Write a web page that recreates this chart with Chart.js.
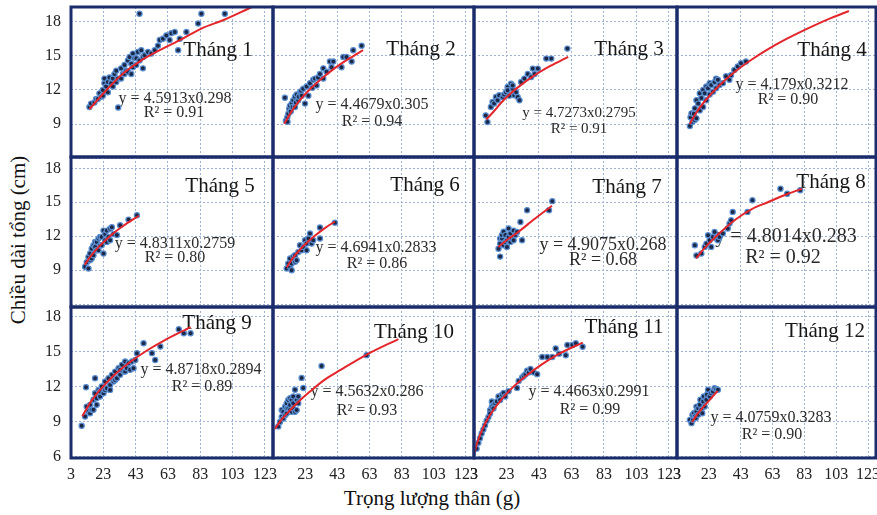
<!DOCTYPE html>
<html>
<head>
<meta charset="utf-8">
<script src="https://cdn.jsdelivr.net/npm/chart.js@4.4.0/dist/chart.umd.min.js"></script>
<style>
  html, body { margin: 0; padding: 0; background: #fff; overflow: hidden; }
  #wrap { position: relative; width: 877px; height: 515px; overflow: hidden; background: #fff; }
  #wrap canvas { position: absolute; }
  .axis-title { position: absolute; font-family: "Liberation Serif", "Times New Roman", serif; font-size: 21px; color: #111; white-space: nowrap; }
  #ytitle { left: 18px; top: 240px; transform: translate(-50%, -50%) rotate(-90deg); }
  #xtitle { left: 432px; top: 498px; transform: translate(-50%, -50%); }
</style>
</head>
<body>
<div id="wrap">
  <div id="ytitle" class="axis-title">Chiều dài tổng (cm)</div>
  <div id="xtitle" class="axis-title">Trọng lượng thân (g)</div>
</div>
<script>
// Labels
const months    = ['Tháng 1', 'Tháng 2', 'Tháng 3', 'Tháng 4', 'Tháng 5', 'Tháng 6',
                   'Tháng 7', 'Tháng 8', 'Tháng 9', 'Tháng 10', 'Tháng 11', 'Tháng 12'];
const equations = ['y = 4.5913x0.298', 'y = 4.4679x0.305', 'y = 4.7273x0.2795', 'y = 4.179x0.3212',
                   'y = 4.8311x0.2759', 'y = 4.6941x0.2833', 'y = 4.9075x0.268', 'y = 4.8014x0.283',
                   'y = 4.8718x0.2894', 'y = 4.5632x0.286', 'y = 4.4663x0.2991', 'y = 4.0759x0.3283'];
const r2Labels  = ['R² = 0.91', 'R² = 0.94', 'R² = 0.91', 'R² = 0.90', 'R² = 0.80', 'R² = 0.86',
                   'R² = 0.68', 'R² = 0.92', 'R² = 0.89', 'R² = 0.93', 'R² = 0.99', 'R² = 0.90'];
const xTicks = [3, 23, 43, 63, 83, 103, 123];
const yTicks = [6, 9, 12, 15, 18];

const pts1 = [[14.4,10.5],[15.4,10.8],[17.5,10.9],[18.5,11.2],[19.6,11.2],[20.6,11.7],[21.6,11.4],[22.7,12.0],[22.7,11.5],
  [23.7,12.6],[23.7,13.0],[24.7,12.3],[25.8,12.7],[25.8,11.8],[26.8,13.1],[27.8,12.6],[28.9,13.0],[28.9,12.3],[29.9,13.4],
  [31.0,13.7],[31.0,12.7],[32.0,13.0],[32.2,10.45],[34.0,13.9],[34.0,13.0],[35.1,13.4],[36.1,14.2],[36.1,13.4],[37.2,13.7],
  [38.2,14.6],[38.2,13.6],[39.2,14.9],[40.3,14.3],[40.3,13.4],[41.3,15.2],[41.3,14.0],[42.3,14.8],[43.4,14.2],[43.4,14.8],
  [44.4,15.35],[45.4,18.7],[45.4,14.6],[46.5,15.5],[47.5,13.9],[47.5,14.9],[48.5,15.05],[50.6,15.35],[52.7,15.2],[54.8,15.5],
  [56.8,15.9],[57.9,16.4],[59.9,16.5],[62.0,16.8],[64.0,16.4],[65.1,17.0],[67.2,17.1],[69.3,15.5],[70.3,16.5],[74.4,17.1],
  [81.7,17.85],[83.7,18.7],[98.2,18.7]];
const pts2 = [[10.4,11.32],[11.0,9.3],[11.9,9.6],[12.0,9.2],[12.5,9.9],[13.1,10.35],[13.5,10.6],[14.0,10.1],[14.6,10.8],
  [15.6,11.1],[15.2,10.5],[16.7,11.4],[16.7,10.5],[17.2,10.9],[17.7,11.6],[18.7,11.1],[19.0,11.4],[19.8,11.8],[20.5,11.9],
  [20.8,11.5],[21.8,12.1],[22.9,10.8],[23.9,12.3],[25.0,11.5],[26.0,12.6],[27.5,12.2],[28.0,12.9],[29.1,13.0],[30.1,12.4],
  [31.0,13.1],[32.2,13.4],[34.3,13.9],[34.3,13.0],[36.3,13.6],[38.4,14.5],[40.5,14.5],[39.4,14.0],[45.6,14.0],[46.7,14.9],
  [48.7,14.9],[51.9,14.5],[52.9,15.5],[58.1,15.9]];
const pts3 = [[10.2,9.76],[11.3,9.17],[13.4,10.5],[14.4,10.94],[15.4,10.8],[16.5,11.38],[17.5,11.1],[18.5,11.53],[20.6,11.38],
  [21.6,11.6],[22.7,11.8],[23.7,12.26],[23.7,11.97],[24.7,11.5],[25.8,12.55],[26.8,12.1],[26.8,12.4],[27.8,11.53],[28.9,11.8],
  [29.9,11.38],[31.0,11.1],[32.0,12.7],[34.0,13.0],[36.1,13.4],[38.2,13.14],[39.2,13.88],[40.3,13.4],[42.3,13.88],[47.5,14.76],
  [50.6,14.76],[60.5,15.64]];
const pts4 = [[11.1,8.82],[11.5,9.6],[12.1,9.94],[12.7,9.2],[13.6,9.9],[14.2,10.38],[14.2,9.35],[15.2,9.5],[15.2,11.1],
  [16.3,10.8],[17.3,10.2],[17.3,11.7],[18.3,11.3],[19.4,10.5],[19.4,12.0],[20.4,11.7],[21.4,11.1],[21.4,12.3],[22.5,12.15],
  [23.5,11.6],[23.5,12.6],[24.5,12.44],[25.6,11.85],[26.6,12.7],[27.6,12.15],[27.6,13.0],[28.7,12.9],[29.7,12.44],[31.8,12.6],
  [33.8,13.2],[35.9,12.9],[36.95,13.3],[39.0,13.76],[41.1,14.06],[43.2,14.35],[46.3,14.5]];
const pts5 = [[11.7,9.3],[12.7,9.7],[13.8,10.17],[13.8,9.15],[14.8,10.47],[14.8,9.88],[15.8,10.9],[15.8,10.03],[16.9,11.2],
  [16.9,10.32],[17.9,11.5],[17.9,11.06],[18.9,10.76],[18.9,11.5],[20.0,11.79],[20.0,10.76],[21.0,11.2],[21.0,11.94],[22.0,11.94],
  [22.0,11.2],[23.1,10.47],[23.1,12.5],[24.1,11.65],[24.1,12.2],[25.2,12.5],[25.2,11.5],[26.2,11.94],[27.2,12.67],[27.2,11.65],
  [28.3,12.8],[29.3,12.2],[31.4,12.1],[33.4,12.97],[38.6,13.47],[43.8,13.85]];
const pts6 = [[11.5,9.15],[12.5,9.59],[13.6,10.03],[13.6,9.3],[14.6,9.0],[14.6,9.59],[15.6,10.2],[16.7,9.74],[16.7,10.33],
  [17.7,9.88],[18.7,10.6],[19.8,11.2],[20.8,10.76],[21.8,11.06],[22.9,11.65],[23.9,10.76],[23.9,11.35],[25.0,11.8],[26.0,12.24],
  [27.0,11.35],[28.0,11.65],[32.2,12.77],[32.2,11.8],[41.5,13.2]];
const pts7 = [[19.1,10.2],[18.1,10.9],[19.1,11.35],[19.1,11.8],[20.2,11.8],[20.2,12.1],[21.2,12.4],[21.2,11.2],[22.3,12.1],
  [22.3,11.5],[23.3,11.65],[23.3,11.06],[24.3,12.68],[24.3,11.94],[25.4,12.24],[25.4,11.5],[26.4,11.8],[27.4,12.5],[27.4,11.65],
  [28.5,12.1],[29.5,12.38],[32.6,11.65],[31.6,13.26],[35.7,14.3],[49.2,14.3],[51.2,15.1]];
const pts8 = [[14.2,11.2],[15.2,10.3],[18.3,10.47],[20.4,11.06],[21.5,11.35],[22.5,12.09],[23.5,11.65],[24.5,11.06],[25.6,11.94],
  [26.6,12.38],[27.6,11.8],[28.7,11.65],[29.7,11.94],[31.8,12.24],[34.9,12.68],[36.0,13.12],[37.0,13.41],[38.0,14.15],[47.3,14.15],
  [50.4,15.18],[68.0,16.2],[72.2,15.76],[80.4,16.06]];
const pts9 = [[9.6,8.66],[11.7,9.46],[12.7,10.31],[12.3,11.97],[13.8,9.89],[14.8,10.46],[14.8,9.74],[15.8,10.03],[16.9,10.89],
  [16.9,10.03],[17.9,11.46],[17.9,12.74],[18.9,10.46],[18.9,11.03],[20.0,11.74],[21.0,11.17],[21.0,11.6],[22.0,12.03],[23.1,11.46],
  [24.1,12.46],[24.1,11.74],[25.2,11.89],[26.2,12.74],[27.2,12.17],[27.2,11.74],[28.3,13.03],[29.3,12.46],[30.3,13.31],[30.3,12.6],
  [31.4,12.74],[32.4,13.6],[33.4,13.03],[33.4,13.46],[34.5,13.89],[35.5,13.31],[36.5,14.17],[36.5,13.31],[37.6,13.6],[38.6,14.03],
  [39.6,13.46],[40.7,14.17],[41.7,13.6],[42.8,14.31],[43.8,14.89],[47.9,15.74],[53.1,14.89],[55.1,14.31],[58.3,15.46],[69.7,16.94],
  [72.8,16.6],[77.0,16.6]];
const pts10 = [[6.3,8.61],[7.3,8.99],[8.4,9.43],[8.4,10.01],[9.4,9.86],[9.4,9.28],[10.5,10.3],[10.5,9.57],[11.5,10.59],
  [11.5,9.72],[11.5,10.15],[12.5,10.88],[12.5,10.15],[13.6,11.02],[13.6,10.44],[13.6,10.01],[14.6,10.88],[14.6,9.86],[15.6,10.59],
  [15.6,11.17],[15.6,10.15],[16.7,11.75],[16.7,9.86],[17.7,10.88],[17.7,10.01],[18.7,11.17],[18.7,10.59],[20.8,12.77],[21.8,11.9],
  [33.2,13.79],[61.2,14.72]];
const pts11 = [[4.6,6.7],[5.7,7.2],[6.7,7.6],[7.7,8.0],[8.8,8.35],[9.8,8.7],[10.8,9.1],[11.9,9.41],[12.9,10.0],[12.9,9.71],
  [14.0,10.3],[14.0,10.74],[15.0,10.44],[15.0,10.15],[16.0,10.59],[17.1,10.74],[18.1,11.18],[19.1,10.88],[20.2,11.32],[21.2,11.47],
  [22.2,11.18],[24.3,11.62],[29.5,11.91],[30.5,12.5],[32.6,12.8],[33.6,12.94],[34.7,13.09],[35.7,13.38],[36.7,13.24],[37.8,13.53],
  [39.8,13.24],[41.9,13.09],[45.0,14.56],[48.1,14.56],[51.2,14.56],[53.3,15.3],[55.4,14.85],[59.5,14.71],[60.5,15.59],[63.6,15.59],
  [65.7,15.74],[69.9,15.44]];
const pts12 = [[11.1,9.17],[12.1,8.89],[12.7,9.6],[13.1,9.17],[13.6,9.74],[14.2,9.46],[14.8,9.32],[15.2,9.89],[15.2,10.31],
  [16.3,9.6],[16.3,10.17],[17.3,10.46],[17.7,10.89],[18.3,10.03],[18.9,9.74],[19.4,10.75],[19.8,11.17],[20.4,10.31],[21.4,10.89],
  [21.8,11.32],[22.5,11.75],[23.5,11.17],[24.5,11.46],[25.6,11.6],[26.6,11.89],[27.6,11.8],[28.7,11.75]];

// Fitted power curves
const fit1  = [[14.4,10.3],[23.7,11.8],[34,13.3],[45.4,14.5],[57.9,15.5],[71.3,16.45],[83.7,17.4],[98.2,18.2],[112,19.1],[115,19.3]];
const fit2  = [[10,9.02],[15,10.2],[20,11.14],[25,11.93],[30,12.6],[35,13.21],[40,13.77],[45,14.27],[50,14.73],[59,15.5]];
const fit3  = [[10.5,9.4],[15,10.08],[20,10.92],[25,11.62],[30,12.23],[40,13.26],[50,14.11],[61,14.92]];
const fit4  = [[11,9.0],[15,9.97],[20,10.94],[30,12.46],[40,13.67],[50,14.68],[60,15.57],[70,16.36],[80,17.07],[90,17.73],[100,18.34],[111,18.95]];
const fit5  = [[11.5,9.48],[15,10.2],[20,11.04],[25,11.74],[30,12.35],[35,12.88],[45,13.81]];
const fit6  = [[11.5,9.25],[15,10.0],[20,10.85],[25,11.55],[30,12.15],[35,12.7],[41.5,13.3]];
const fit7  = [[18,11.05],[24,11.75],[30,12.35],[40,13.5],[51,14.7]];
const fit8  = [[15,10.05],[20,10.9],[30,12.3],[40,13.5],[50,14.4],[60,15.0],[70,15.6],[81.5,16.2]];
const fit9  = [[10,9.49],[15,10.67],[20,11.59],[30,13.04],[40,14.17],[50,15.12],[60,15.93],[77,17.12]];
const fit10 = [[4.2,8.4],[8,9.15],[13.6,10.0],[19.8,10.85],[26,11.6],[35,12.6],[45,13.45],[61,14.75],[81,16.1]];
const fit11 = [[3,6.2],[5,7.23],[8,8.32],[12,9.39],[17,10.42],[25,11.7],[35,12.93],[45,13.95],[55,14.81],[70,15.8]];
const fit12 = [[12.5,9.0],[16,9.7],[20,10.35],[24,10.95],[28.5,11.65]];

const points = [pts1, pts2, pts3, pts4, pts5, pts6, pts7, pts8, pts9, pts10, pts11, pts12];
const fits   = [fit1, fit2, fit3, fit4, fit5, fit6, fit7, fit8, fit9, fit10, fit11, fit12];

// Layout (page pixels) -- panel frame edges and text offsets inside each panel
const colEdges = [71, 273, 474, 677, 876];
const rowEdges = [7, 157, 307, 458];
const rowRange = [[6.1, 19.3], [5.75, 19.0], [5.9, 18.85]];
const titlePos = [[147,43],[148,42],[155,42],[155,43],[149,29],[152,28],[153,30],[154,25],[146,16],[141,25],[150,20],[148,24]];
const eqPos    = [[104,92],[99,98],[105,106],[115,78],[104,87],[103,91],[129,88],[109,80],[130,63],[94,85],[115,85],[94,111]];
const r2Pos    = [[103,106],[99,115],[105,122],[111,93],[104,101],[104,107],[129,103],[106,101],[131,80],[94,104],[116,103],[95,128]];
const eqSize   = [16, 16, 15, 16, 16, 16, 18, 20, 16, 16, 16, 16];

const PAD = 24, YAXIS_W = 46, XAXIS_H = 45;
const SERIF = '"Liberation Serif", "Times New Roman", serif';
const NAVY = '#1a2c6b';
const GRID = '#9fb2cf';
const RED = '#e3262c';

const panelDecor = {
  id: 'panelDecor',
  beforeDatasetsDraw(chart, args, opts) {
    const i = opts.idx;
    const { ctx, chartArea: a } = chart;
    ctx.save();
    ctx.fillStyle = '#161616';
    ctx.textAlign = 'center';
    ctx.textBaseline = 'middle';
    ctx.font = `21px ${SERIF}`;
    ctx.fillText(months[i], a.left + titlePos[i][0], a.top + titlePos[i][1]);
    ctx.fillStyle = '#2a2a2a';
    ctx.font = `${eqSize[i]}px ${SERIF}`;
    ctx.fillText(equations[i], a.left + eqPos[i][0], a.top + eqPos[i][1]);
    ctx.fillText(r2Labels[i], a.left + r2Pos[i][0], a.top + r2Pos[i][1]);
    ctx.restore();
  },
  afterDraw(chart) {
    const { ctx, chartArea: a } = chart;
    ctx.save();
    ctx.strokeStyle = NAVY;
    ctx.lineWidth = 3;
    ctx.strokeRect(a.left, a.top, a.right - a.left, a.bottom - a.top);
    ctx.restore();
  },
};

const wrap = document.getElementById('wrap');
const tickFont = { family: SERIF, size: 16 };

for (let i = 0; i < 12; i++) {
  const r = Math.floor(i / 4), c = i % 4;
  const leftM = c === 0 ? YAXIS_W : PAD;
  const bottomM = r === 2 ? XAXIS_H : PAD;
  const w = colEdges[c + 1] - colEdges[c];
  const h = rowEdges[r + 1] - rowEdges[r];

  const cv = document.createElement('canvas');
  cv.width = w + leftM + PAD;
  cv.height = h + PAD + bottomM;
  cv.style.left = (colEdges[c] - leftM) + 'px';
  cv.style.top = (rowEdges[r] - PAD) + 'px';
  wrap.appendChild(cv);

  new Chart(cv, {
    type: 'scatter',
    data: {
      datasets: [
        {
          label: 'fit',
          data: fits[i].map(([x, y]) => ({ x, y })),
          showLine: true,
          borderColor: RED,
          borderWidth: 2,
          pointRadius: 0,
          pointHoverRadius: 0,
          cubicInterpolationMode: 'monotone',
          order: 0,
        },
        {
          label: 'obs',
          data: points[i].map(([x, y]) => ({ x, y })),
          pointRadius: 2.6,
          pointBackgroundColor: '#1b2847',
          pointBorderColor: '#5a8ed0',
          pointBorderWidth: 1.2,
          order: 1,
        },
      ],
    },
    options: {
      responsive: false,
      animation: false,
      events: [],
      layout: { padding: { left: c === 0 ? 0 : PAD, right: PAD, top: PAD, bottom: r === 2 ? 0 : PAD } },
      plugins: {
        legend: { display: false },
        tooltip: { enabled: false },
        panelDecor: { idx: i },
      },
      scales: {
        x: {
          type: 'linear',
          min: 3,
          max: 128,
          afterBuildTicks: s => { s.ticks = xTicks.map(v => ({ value: v })); },
          afterFit: s => { s.height = r === 2 ? XAXIS_H : 0; },
          grid: { color: GRID, lineWidth: 1, drawTicks: false },
          border: { display: false, dash: [2, 2] },
          ticks: {
            display: r === 2,
            autoSkip: false,
            maxRotation: 0,
            padding: 7,
            color: '#222',
            font: tickFont,
            callback: v => (c === 1 && v === 3) ? '' : String(v),
          },
        },
        y: {
          type: 'linear',
          min: rowRange[r][0],
          max: rowRange[r][1],
          afterBuildTicks: s => { s.ticks = yTicks.map(v => ({ value: v })); },
          afterFit: s => { s.width = c === 0 ? YAXIS_W : 0; },
          grid: { color: GRID, lineWidth: 1, drawTicks: false },
          border: { display: false, dash: [2, 2] },
          ticks: {
            display: c === 0,
            autoSkip: false,
            padding: 10,
            color: '#222',
            font: tickFont,
            callback: v => (v === 6 && r < 2) ? '' : String(v),
          },
        },
      },
    },
    plugins: [panelDecor],
  });
}
</script>
</body>
</html>
